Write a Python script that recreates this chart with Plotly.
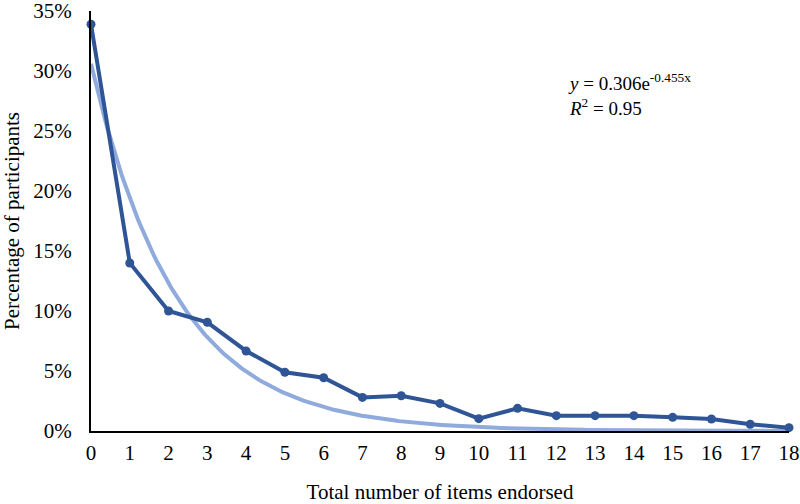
import numpy as np
import plotly.graph_objects as go

items = list(range(19))
pct = [0.339, 0.140, 0.100, 0.0906, 0.0667, 0.049, 0.0444, 0.028, 0.0294, 0.023,
       0.0103, 0.0189, 0.0128, 0.0128, 0.0128, 0.0114, 0.0100, 0.0056, 0.0028]
trend_a = 0.306
trend_b = -0.455
y_ticks = [0, 0.05, 0.10, 0.15, 0.20, 0.25, 0.30, 0.35]
y_ticklabels = ["0%", "5%", "10%", "15%", "20%", "25%", "30%", "35%"]

xs = np.linspace(0, 18, 300)
trend = trend_a * np.exp(trend_b * xs)

font = "Liberation Serif, Times New Roman, serif"

fig = go.Figure()
fig.add_trace(go.Scatter(x=xs, y=trend, mode="lines",
                         line=dict(color="#8FAADC", width=4), hoverinfo="skip",
                         cliponaxis=False))
fig.add_trace(go.Scatter(x=items, y=pct, mode="lines+markers",
                         line=dict(color="#2F5597", width=4),
                         marker=dict(color="#2F5597", size=9),
                         cliponaxis=False))

fig.update_layout(
    width=800, height=504,
    margin=dict(l=91, r=11, t=11, b=73),
    paper_bgcolor="white", plot_bgcolor="white",
    showlegend=False,
    font=dict(family=font, size=21, color="black"),
    xaxis=dict(range=[0, 18], tickvals=items, ticktext=[str(i) for i in items],
               showgrid=False, zeroline=False, showline=True, linecolor="black",
               linewidth=2, ticks="", ticklabelstandoff=2, automargin=False,
               ticklabeloverflow="allow",
               title=dict(text="Total number of items endorsed", standoff=21,
                          font=dict(size=21))),
    yaxis=dict(range=[0, 0.35], tickvals=y_ticks, ticktext=y_ticklabels,
               showgrid=False, zeroline=False, showline=True, linecolor="black",
               linewidth=2, ticks="", ticklabelstandoff=13, automargin=False,
               ticklabeloverflow="allow",
               title=dict(text="Percentage of participants", standoff=10,
                          font=dict(size=21))),
    annotations=[dict(
        x=0.68, y=0.865, xref="paper", yref="paper", xanchor="left", yanchor="top",
        align="left", showarrow=False,
        text="<i>y</i> = 0.306e<sup>-0.455x</sup><br><i>R</i><sup>2</sup> = 0.95",
        font=dict(family=font, size=19, color="black"))],
)

fig.write_html("out.html", config={"displayModeBar": False},
               post_script="document.body.style.margin='0';")
